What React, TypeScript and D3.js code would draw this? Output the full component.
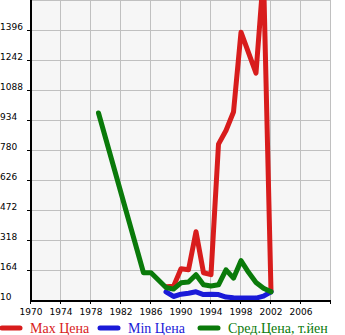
import React from "react";
import * as d3 from "d3";

const yearsDetail = [1988, 1989, 1990, 1991, 1992, 1993, 1994, 1995, 1996, 1997, 1998, 1999, 2000, 2001, 2002];
const maxPrice = [78, 80, 170, 165, 360, 150, 140, 810, 880, 975, 1385, 1280, 1175, 1680, 55];
const minPrice = [52, 28, 40, 45, 52, 38, 40, 38, 25, 22, 20, 20, 20, 30, 52];
const avgYears = [1979, 1985, 1986, 1988, 1989, 1990, 1991, 1992, 1993, 1994, 1995, 1996, 1997, 1998, 1999, 2000, 2001, 2002];
const avgPrice = [970, 150, 150, 74, 66, 98, 102, 140, 88, 82, 88, 165, 122, 212, 152, 100, 70, 52];
const yTicks = [10, 164, 318, 472, 626, 780, 934, 1088, 1242, 1396];
const xTicks = [1970, 1974, 1978, 1982, 1986, 1990, 1994, 1998, 2002, 2006];
const legendLabels = ["Max Цена", "Min Цена", "Сред.Цена, т.йен"];

const RED = "#d81c1c";
const BLUE = "#1a1ad8";
const GREEN = "#0a7a0a";

export default function App() {
  const left = 31, right = 331, top = 0, bottom = 300;
  const x = d3.scaleLinear().domain([1970, 2010]).range([left, right]);
  const y = d3.scaleLinear().domain([10, 1550]).range([bottom, top]);
  const line = d3.line<[number, number]>().x(d => x(d[0])).y(d => y(d[1]));
  const maxPts = yearsDetail.map((yr, i) => [yr, maxPrice[i]] as [number, number]);
  const minPts = yearsDetail.map((yr, i) => [yr, minPrice[i]] as [number, number]);
  const avgPts = avgYears.map((yr, i) => [yr, avgPrice[i]] as [number, number]);
  const gridX = d3.range(1970, 2011, 4);
  const legendColors = [RED, BLUE, GREEN];
  const legendX = [0, 98, 198];
  return (
    <svg width={345} height={335} style={{ position: "absolute", left: 0, top: 0 }}>
      <defs>
        <clipPath id="plotclip">
          <rect x={left} y={top} width={right - left} height={bottom - top + 4} />
        </clipPath>
      </defs>
      <rect x={left} y={top} width={right - left} height={bottom - top} fill="#f6f6f6" />
      {yTicks.concat([1550]).map(v => (
        <line key={"gy" + v} x1={left} x2={right} y1={Math.round(y(v)) + 0.5} y2={Math.round(y(v)) + 0.5} stroke="#c0c0c0" strokeWidth={1} />
      ))}
      {gridX.map(v => (
        <line key={"gx" + v} x1={Math.round(x(v)) - 0.5} x2={Math.round(x(v)) - 0.5} y1={top} y2={bottom} stroke="#c0c0c0" strokeWidth={1} />
      ))}
      <g clipPath="url(#plotclip)" fill="none" strokeWidth={5} strokeLinejoin="round" strokeLinecap="round">
        <path d={line(maxPts) || ""} stroke={RED} />
        <path d={line(minPts) || ""} stroke={BLUE} />
        <path d={line(avgPts) || ""} stroke={GREEN} />
      </g>
      <line x1={left} x2={left} y1={top} y2={bottom + 2} stroke="#000" strokeWidth={2} />
      <line x1={left - 1} x2={right} y1={bottom + 1} y2={bottom + 1} stroke="#000" strokeWidth={2} />
      {yTicks.slice(1).map(v => (
        <line key={"ty" + v} x1={left - 4} x2={left} y1={Math.round(y(v)) + 0.5} y2={Math.round(y(v)) + 0.5} stroke="#000" strokeWidth={1} />
      ))}
      {gridX.map(v => (
        <line key={"tx" + v} x1={Math.round(x(v)) - 0.5} x2={Math.round(x(v)) - 0.5} y1={bottom} y2={bottom + 4} stroke="#000" strokeWidth={1} />
      ))}
      <g fontFamily="DejaVu Sans" fontSize={9} fill="#000">
        {yTicks.map(v => (
          <text key={"ly" + v} x={0} y={Math.round(y(v))}>{v}</text>
        ))}
        {xTicks.map(v => (
          <text key={"lx" + v} x={x(v)} y={315} textAnchor="middle">{v}</text>
        ))}
      </g>
      {legendLabels.map((lab, i) => (
        <g key={lab}>
          <line x1={legendX[i] + 2} x2={legendX[i] + 20} y1={328} y2={328} stroke={legendColors[i]} strokeWidth={5} strokeLinecap="round" />
          <text x={legendX[i] + 30} y={333} fontFamily="Liberation Serif" fontSize={14} fill={legendColors[i]}>{lab}</text>
        </g>
      ))}
    </svg>
  );
}
